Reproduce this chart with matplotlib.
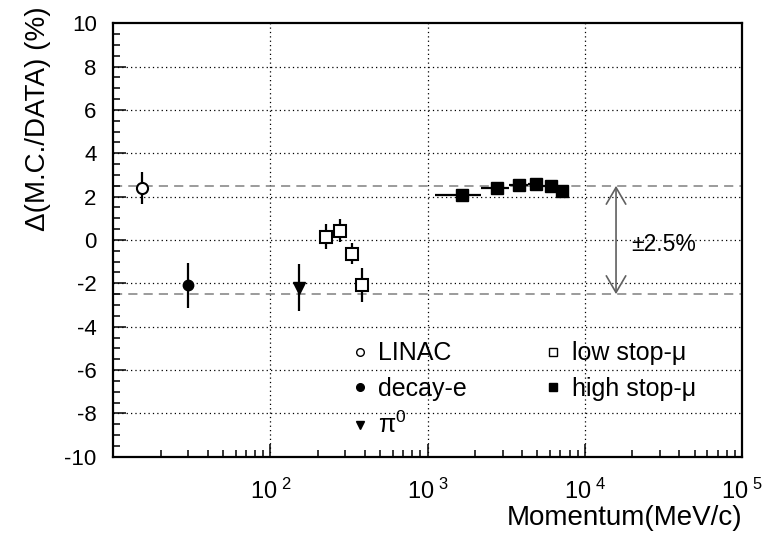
import matplotlib
matplotlib.use('Agg')
import matplotlib.pyplot as plt
import numpy as np
from matplotlib.ticker import MultipleLocator, FixedLocator, FuncFormatter, NullFormatter
from matplotlib.lines import Line2D

plt.rcParams['font.family'] = ['Liberation Sans', 'DejaVu Sans']
plt.rcParams['mathtext.fontset'] = 'custom'
plt.rcParams['mathtext.rm'] = 'Liberation Sans'
plt.rcParams['mathtext.it'] = 'Liberation Sans:italic'
plt.rcParams['mathtext.bf'] = 'Liberation Sans:bold'

# ---- data ----
linac_p = [15.2]
linac_d = [2.4]
linac_e = [0.75]

decay_p = [30.0]
decay_d = [-2.1]
decay_e = [1.05]

pi0_p = [152.0]
pi0_d = [-2.2]
pi0_e = [1.1]

low_p = [227, 276, 328, 380]
low_d = [0.15, 0.43, -0.64, -2.08]
low_e = [0.57, 0.52, 0.48, 0.77]
low_lo = [204, 262, 312, 362]
low_hi = [250, 290, 345, 398]

high_p = [1650, 2750, 3830, 4890, 6060, 7120]
high_d = [2.08, 2.39, 2.52, 2.59, 2.51, 2.28]
high_lo = [1110, 2190, 3290, 4350, 5410, 6550]
high_hi = [2190, 3290, 4350, 5410, 6550, 7690]

band = 2.5
arrow_p = 15800
xticks = [1e2, 1e3, 1e4, 1e5]
yticks = [-10, -8, -6, -4, -2, 0, 2, 4, 6, 8, 10]

fig = plt.figure(figsize=(7.72, 5.46), dpi=100)
ax = fig.add_axes([0.1468, 0.1636, 0.8143, 0.7937])
ax.set_xscale('log')
ax.set_xlim(10, 1e5)
ax.set_ylim(-10, 10)

# grid
for t in xticks[:-1]:
    ax.axvline(t, color='black', lw=0.9, ls=(0, (1, 2.5)), zorder=1)
for t in yticks[1:-1]:
    ax.axhline(t, color='black', lw=0.9, ls=(0, (1, 2.5)), zorder=1)

# band lines
for b in (band, -band):
    ax.axhline(b, color='#808080', lw=1.1, ls=(0, (6, 4)), zorder=1)

ekw = dict(ecolor='black', elinewidth=1.6, capsize=0, ls='none', zorder=3)

ax.errorbar(linac_p, linac_d, yerr=linac_e, fmt='o', ms=8, mfc='white',
            mec='black', mew=1.5, **ekw)
ax.errorbar(decay_p, decay_d, yerr=decay_e, fmt='o', ms=7.5, mfc='black',
            mec='black', **ekw)
ax.errorbar(pi0_p, pi0_d, yerr=pi0_e, fmt='v', ms=8, mfc='black',
            mec='black', **ekw)

lp = np.array(low_p, float)
low_xerr = [lp - np.array(low_lo), np.array(low_hi) - lp]
ax.errorbar(low_p, low_d, yerr=low_e, xerr=low_xerr, fmt='s', ms=8.5,
            mfc='white', mec='black', mew=1.5, **ekw)

hp = np.array(high_p, float)
high_xerr = [hp - np.array(high_lo), np.array(high_hi) - hp]
ax.errorbar(high_p, high_d, xerr=high_xerr, fmt='s', ms=8, mfc='black',
            mec='black', **ekw)

# arrow
ax.annotate('', xy=(arrow_p, band), xytext=(arrow_p, -band),
            arrowprops=dict(arrowstyle='<->,head_length=1.2,head_width=0.7',
                            color='#606060', lw=1.2, shrinkA=0, shrinkB=0))
ax.text(arrow_p * 1.25, -0.23, '±2.5%', fontsize=16.5, va='center', ha='left')

# ticks
ax.xaxis.set_major_locator(FixedLocator(xticks))
ax.xaxis.set_major_formatter(FuncFormatter(lambda v, p: r'$10^{\ %d}$' % round(np.log10(v))))
minors = [m * 10 ** d for d in range(1, 5) for m in range(2, 10)]
ax.xaxis.set_minor_locator(FixedLocator(minors))
ax.xaxis.set_minor_formatter(NullFormatter())
ax.yaxis.set_major_locator(FixedLocator(yticks))
ax.yaxis.set_major_formatter(FuncFormatter(lambda v, p: '%d' % v))
ax.yaxis.set_minor_locator(MultipleLocator(0.5))

ax.tick_params(which='both', direction='in', top=False, right=False, width=1.1)
ax.tick_params(which='major', length=9.5)
ax.tick_params(which='minor', length=5)
ax.tick_params(axis='y', labelsize=16, pad=12)
ax.tick_params(axis='x', labelsize=17, pad=16)
for s in ax.spines.values():
    s.set_linewidth(1.6)

ax.set_xlabel('Momentum(MeV/c)', fontsize=20, ha='right', x=1.0, labelpad=1)
ax.set_ylabel('Δ(M.C./DATA) (%)', fontsize=20, ha='right', y=1.04, labelpad=10)

# legend
handles = [
    Line2D([], [], ls='none', marker='o', ms=5.5, mfc='white', mec='black', mew=1.0),
    Line2D([], [], ls='none', marker='o', ms=5.5, mfc='black', mec='black'),
    Line2D([], [], ls='none', marker='v', ms=5.5, mfc='black', mec='black'),
    Line2D([], [], ls='none', marker='s', ms=5.5, mfc='white', mec='black', mew=1.0),
    Line2D([], [], ls='none', marker='s', ms=5.5, mfc='black', mec='black'),
]
labels = ['LINAC', 'decay-e', r'π$^{0}$', 'low stop-μ', 'high stop-μ']
ax.legend(handles, labels, ncol=2, frameon=False, fontsize=18,
          loc='upper left', bbox_to_anchor=(0.376, 0.266),
          handlelength=0.8, handletextpad=0.35, columnspacing=3.04,
          labelspacing=0.45, borderaxespad=0, borderpad=0)

fig.savefig('out.png', dpi=100)
